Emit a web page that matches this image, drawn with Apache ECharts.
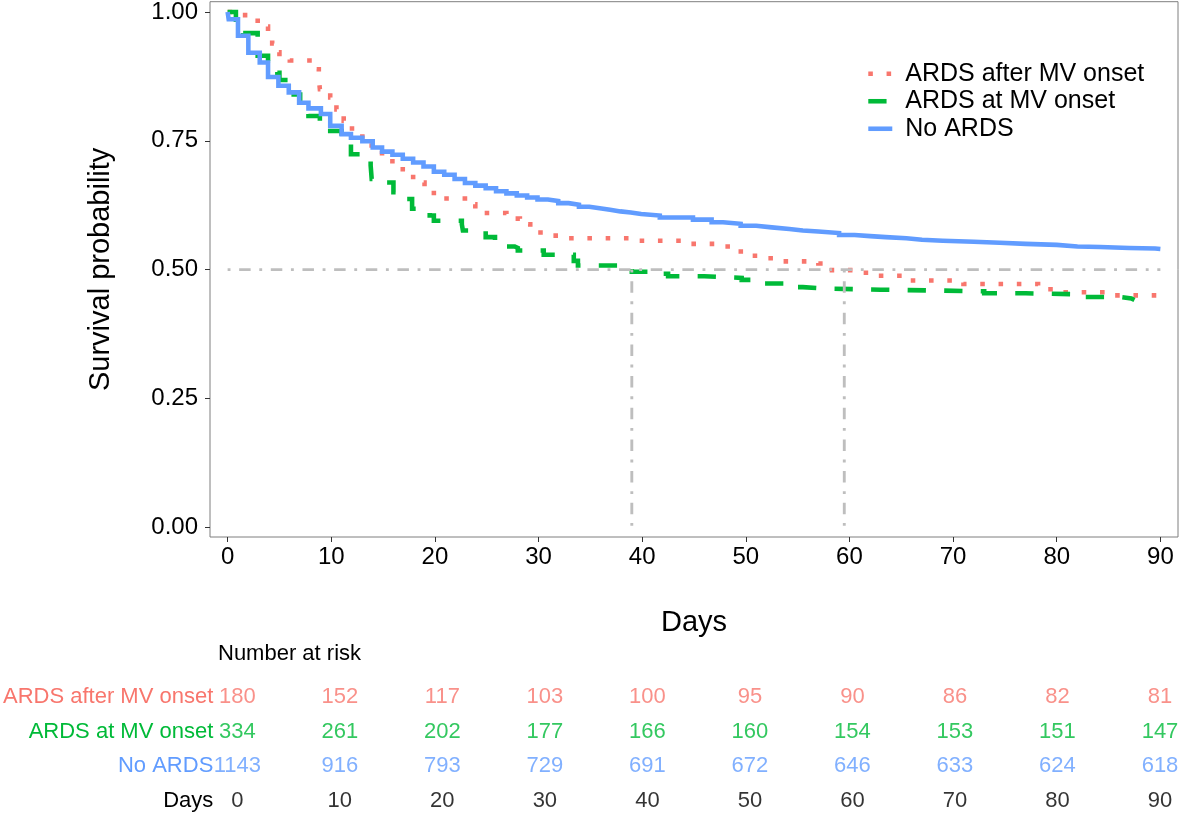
<!DOCTYPE html>
<html><head><meta charset="utf-8">
<script src="https://cdn.jsdelivr.net/npm/echarts@6/dist/echarts.min.js"></script>
<style>html,body{margin:0;padding:0;background:#fff}#c{width:1181px;height:818px}</style>
</head><body><div id="c"></div>
<script>
// ---------- data ----------
const seriesNames = ['ARDS after MV onset', 'ARDS at MV onset', 'No ARDS'];
const colors = ['#F8766D', '#00BA38', '#619CFF'];

// Kaplan–Meier steps: [day, survival after the event]
const afterMV = [[0,1.0],[1.0,0.994],[2.0,0.989],[2.9,0.983],[3.5,0.972],[3.9,0.961],[4.3,0.939],[4.7,0.922],[5.0,0.911],[6.0,0.906],[7.9,0.900],[8.5,0.889],[8.8,0.872],[8.9,0.850],[9.9,0.834],[10.5,0.811],[11.2,0.789],[12.0,0.767],[13.0,0.750],[13.9,0.734],[14.9,0.718],[15.9,0.702],[16.9,0.685],[17.9,0.669],[19.0,0.654],[19.9,0.638],[22.9,0.627],[23.9,0.610],[26.9,0.599],[28.2,0.588],[29.2,0.572],[30.7,0.566],[32.0,0.561],[39.0,0.556],[44.0,0.550],[47.5,0.545],[48.9,0.535],[50.4,0.527],[51.9,0.522],[53.4,0.516],[57.0,0.512],[57.6,0.499],[61.2,0.494],[62.7,0.488],[65.8,0.479],[71.0,0.472],[78.2,0.467],[79.4,0.456],[84.4,0.450],[90,0.450]];
const atMV = [[0,1.0],[0.8,0.980],[1.5,0.959],[2.9,0.915],[3.9,0.905],[4.8,0.882],[5.0,0.868],[6.0,0.840],[7.0,0.815],[7.8,0.798],[8.9,0.785],[9.9,0.769],[11.0,0.756],[11.9,0.724],[13.8,0.702],[13.9,0.676],[15.0,0.669],[16.0,0.650],[17.0,0.637],[17.8,0.618],[19.5,0.605],[19.9,0.595],[22.6,0.588],[22.7,0.576],[24.9,0.563],[25.8,0.545],[27.7,0.542],[28.0,0.537],[30.5,0.529],[33.4,0.517],[33.8,0.508],[37.9,0.504],[39.0,0.496],[41.2,0.492],[42.5,0.487],[46.0,0.484],[49.6,0.480],[51.0,0.473],[54.2,0.466],[55.5,0.463],[58.0,0.461],[63.0,0.458],[73.0,0.454],[77.0,0.452],[82.2,0.447],[86.0,0.444],[87.2,0.441],[87.5,0.441]];
const noARDS = [[0,1.0],[0.1,0.986],[1.0,0.954],[2.0,0.921],[3.1,0.902],[3.9,0.874],[4.9,0.857],[5.9,0.844],[6.9,0.824],[7.8,0.813],[9.0,0.802],[9.9,0.779],[11.0,0.763],[11.9,0.756],[13.0,0.749],[14.0,0.737],[14.9,0.729],[15.9,0.723],[16.9,0.715],[17.9,0.708],[18.9,0.700],[19.9,0.690],[20.9,0.684],[21.9,0.676],[22.9,0.668],[23.9,0.663],[24.9,0.658],[25.9,0.652],[26.9,0.648],[27.9,0.644],[28.9,0.640],[29.9,0.636],[30.9,0.633],[31.9,0.629],[32.9,0.626],[33.9,0.622],[34.9,0.619],[35.9,0.616],[36.9,0.613],[37.9,0.611],[38.9,0.608],[39.9,0.605],[41.7,0.601],[44.9,0.597],[46.7,0.592],[47.8,0.589],[49.5,0.585],[51.0,0.582],[52.5,0.579],[54.2,0.576],[55.5,0.574],[57.0,0.571],[59.0,0.567],[60.5,0.565],[62.0,0.563],[63.5,0.561],[65.5,0.558],[67.0,0.556],[69.0,0.554],[72.0,0.552],[74.5,0.550],[77.0,0.548],[80.0,0.545],[82.0,0.544],[84.2,0.542],[87.0,0.541],[89.5,0.540],[90,0.540]];

const xTicks = [0,10,20,30,40,50,60,70,80,90];
const yTicks = [0,0.25,0.5,0.75,1];
const medianLevel = 0.5;
const medianDays = [39, 59.5];

const riskDays = [0,10,20,30,40,50,60,70,80,90];
const riskAfter = [180,152,117,103,100,95,90,86,82,81];
const riskAt = [334,261,202,177,166,160,154,153,151,147];
const riskNo = [1143,916,793,729,691,672,646,633,624,618];
const riskRows = ['ARDS after MV onset', 'ARDS at MV onset', 'No ARDS', 'Days'];
const riskRowColors = ['#F8766D', '#00BA38', '#619CFF', '#000000'];

// ---------- chart ----------
const FONT = 'Liberation Sans, Arial, Helvetica, sans-serif';
const LW = 4.57;
const refStyle = {color:'#BEBEBE', width:2.88, type:[2.88,8.64,11.5,8.64], cap:'butt'};

const chart = echarts.init(document.getElementById('c'), null, {renderer:'canvas'});

const curveSeries = [
  {name: seriesNames[0], data: afterMV, lineStyle:{type:[LW, LW*3], cap:'butt'}},
  {name: seriesNames[1], data: atMV, lineStyle:{type:[LW*4, LW*4], cap:'butt'}},
  {name: seriesNames[2], data: noARDS, lineStyle:{type:'solid', cap:'butt'}}
].map((s, i) => ({
  name: s.name, type:'line', step:'end', data: s.data, symbol:'none', showSymbol:false,
  xAxisIndex:0, yAxisIndex:0, animation:false, silent:true, z:2,
  itemStyle:{color: colors[i]},
  lineStyle:Object.assign({color: colors[i], width: LW, join:'miter'}, s.lineStyle)
}));

const refSeries = [
  {type:'line', data:[[0, medianLevel],[90, medianLevel]]}
].concat(medianDays.map(d => ({type:'line', data:[[d, medianLevel],[d, 0]]}))).map(s => Object.assign(s, {
  symbol:'none', xAxisIndex:0, yAxisIndex:0, animation:false, silent:true, z:3, lineStyle:refStyle
}));

const riskValues = [riskAfter, riskAt, riskNo, riskDays];
const riskSeries = riskValues.map((vals, r) => ({
  type:'scatter', xAxisIndex:1, yAxisIndex:1, symbolSize:0, animation:false, silent:true,
  data: riskDays.map((d, k) => [d, riskRows[r], vals[k]]),
  label:{show:true, position:'inside', formatter: p => String(p.value[2]),
    color: riskRowColors[r], fontSize:22, fontFamily:FONT}
}));

chart.setOption({
  backgroundColor:'#ffffff',
  textStyle:{fontFamily:FONT},
  title:{text:'Number at risk', left:218, top:643, padding:0,
    textStyle:{fontSize:22, fontWeight:'normal', color:'#000', fontFamily:FONT}},
  legend:{data: seriesNames, orient:'vertical', left:866, top:60, padding:0,
    itemWidth:24, itemHeight:6, itemGap:0,
    itemStyle:{color:'transparent', borderWidth:0, opacity:0},
    lineStyle:{width:LW},
    textStyle:{fontSize:25, color:'#000', fontFamily:FONT, lineHeight:27.5, padding:[0,0,0,8]}},
  grid:[
    {left:210, right:3, top:1.5, bottom:281, show:true, borderColor:'#7F7F7F', borderWidth:1, backgroundColor:'#fff'},
    {left:232, right:21, top:680, height:140}
  ],
  xAxis:[
    {type:'value', min:-1.7, max:91.7, gridIndex:0,
      name:'Days', nameLocation:'middle', nameGap:71,
      nameTextStyle:{fontSize:29, color:'#000', fontFamily:FONT},
      axisLine:{show:false, onZero:false}, splitLine:{show:false},
      axisTick:{show:true, length:5, customValues:xTicks, lineStyle:{color:'#333', width:1}},
      axisLabel:{customValues:xTicks, fontSize:24, color:'#000', margin:8, fontFamily:FONT}},
    {type:'value', min:0, max:90, gridIndex:1, show:false}
  ],
  yAxis:[
    {type:'value', min:-0.019, max:1.02, gridIndex:0,
      name:'Survival probability', nameLocation:'middle', nameGap:95, nameRotate:90,
      nameTextStyle:{fontSize:29, color:'#000', fontFamily:FONT},
      axisLine:{show:false, onZero:false}, splitLine:{show:false},
      axisTick:{show:true, length:5, customValues:yTicks, lineStyle:{color:'#333', width:1}},
      axisLabel:{customValues:yTicks, fontSize:24, color:'#000', margin:12, fontFamily:FONT,
        formatter: v => v.toFixed(2)}},
    {type:'category', data: riskRows, inverse:true, gridIndex:1,
      axisLine:{show:false}, axisTick:{show:false}, splitLine:{show:false},
      axisLabel:{fontSize:22, margin:24, fontFamily:FONT,
        color:(v, i) => riskRowColors[riskRows.indexOf(v)]}}
  ],
  series: curveSeries.concat(refSeries, riskSeries)
});
</script></body></html>
